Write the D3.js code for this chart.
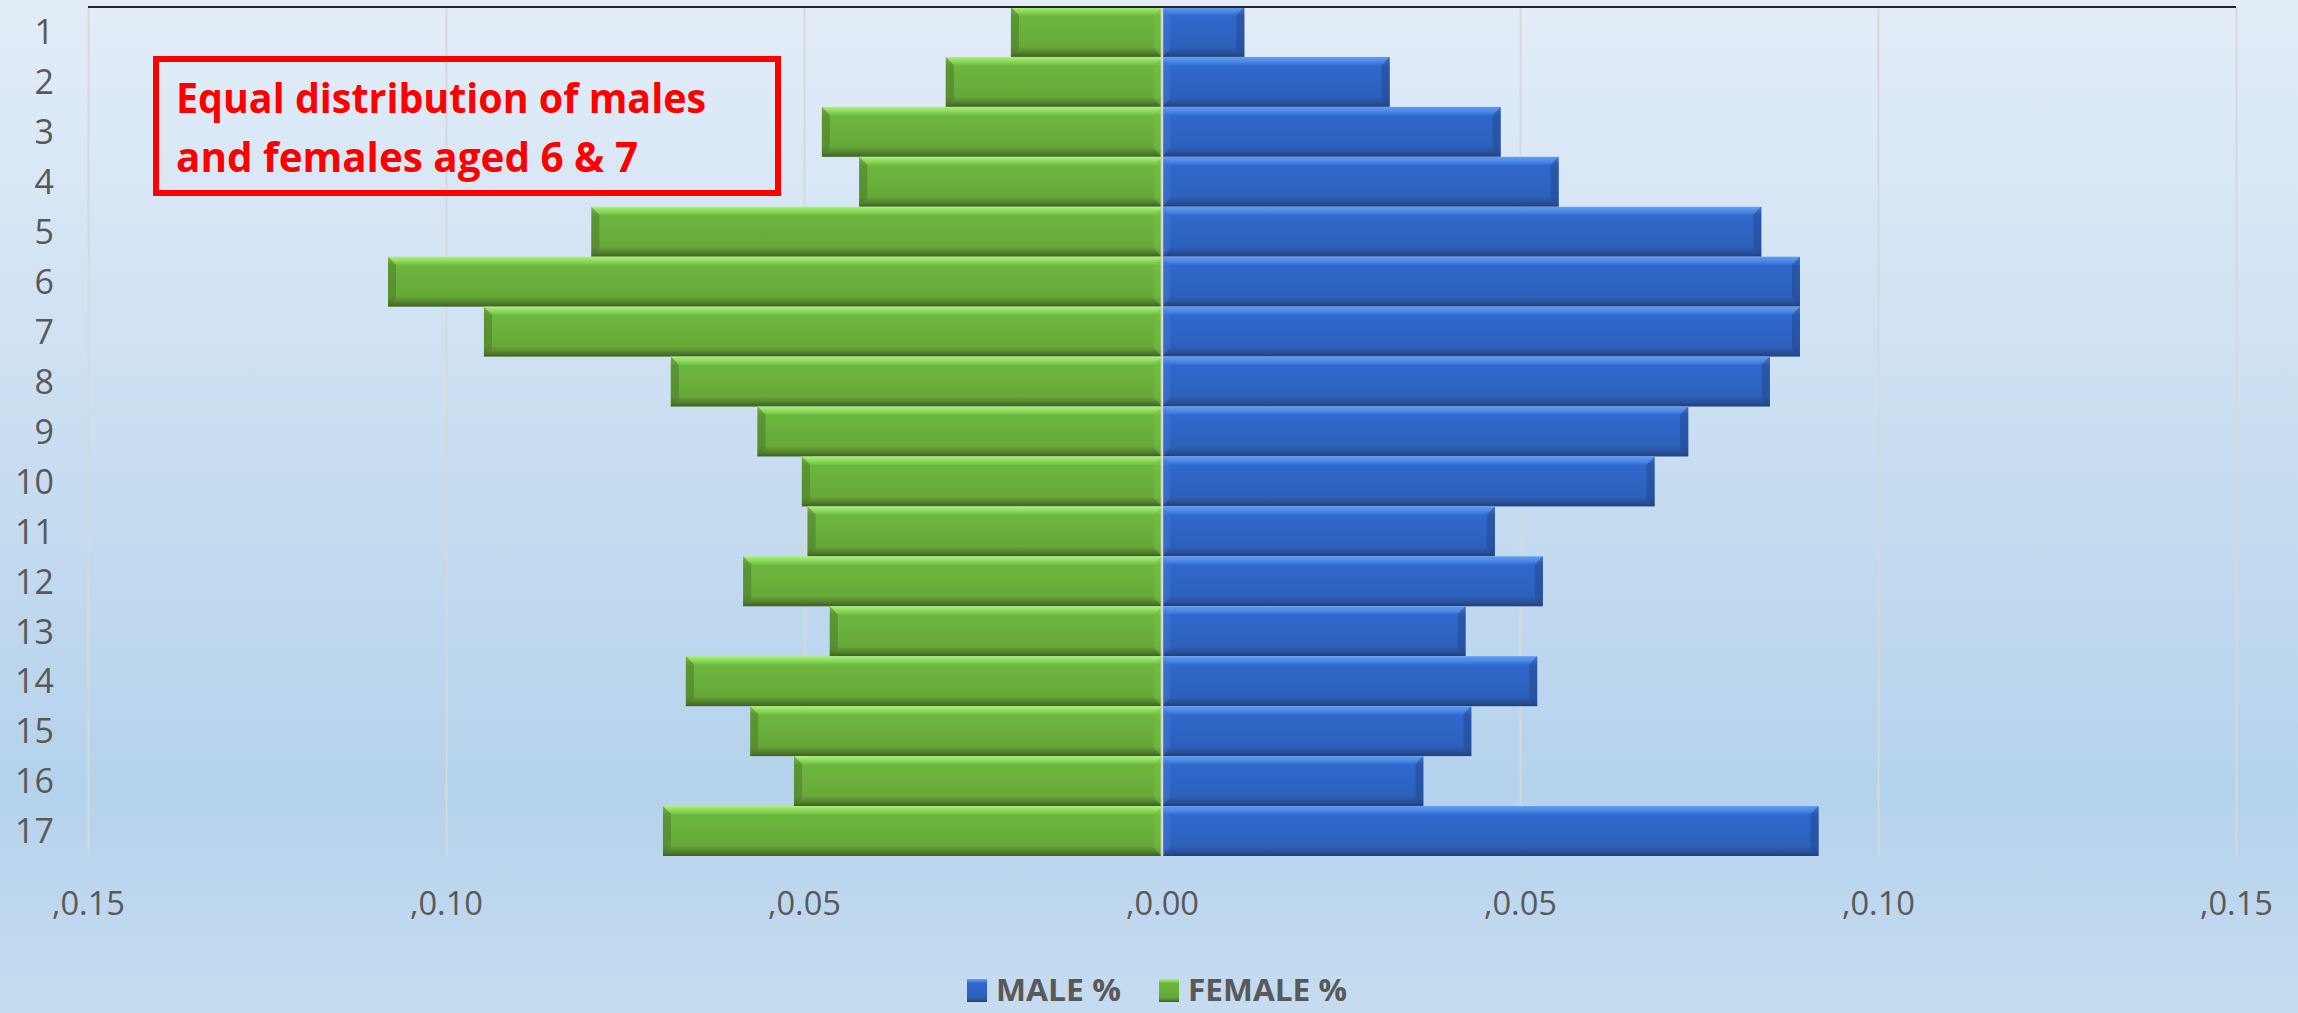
<!DOCTYPE html>
<html>
<head>
<meta charset="utf-8">
<script src="https://cdn.jsdelivr.net/npm/d3@7"></script>
<style>
  body { margin: 0; padding: 0; overflow: hidden; }
  svg { display: block; }
</style>
</head>
<body>
<div id="chart"></div>
<script>
// Data
const ages = ["1","2","3","4","5","6","7","8","9","10","11","12","13","14","15","16","17"];
const malePct = [0.0115, 0.0318, 0.0473, 0.0554, 0.0837, 0.0891, 0.0891, 0.0849, 0.0735, 0.0688,
                 0.0465, 0.0532, 0.0424, 0.0524, 0.0432, 0.0365, 0.0917];
const femalePct = [0.0211, 0.0302, 0.0475, 0.0423, 0.0797, 0.1081, 0.0947, 0.0686, 0.0565, 0.0503,
                   0.0495, 0.0585, 0.0464, 0.0665, 0.0575, 0.0514, 0.0697];
const tickValues = [-0.15, -0.10, -0.05, 0, 0.05, 0.10, 0.15];
const legendItems = [{label: "MALE %", key: "male"}, {label: "FEMALE %", key: "female"}];
const noteLines = ["Equal distribution of males", "and females aged 6 & 7"];

const W = 2298, H = 1013;
const font = "'Liberation Sans Narrow', 'Open Sans', sans-serif";

const svg = d3.select("#chart").append("svg")
    .attr("width", W)
    .attr("height", H);

const defs = svg.append("defs");

// background gradient
const bg = defs.append("linearGradient").attr("id", "bg")
    .attr("x1", 0).attr("y1", 0).attr("x2", 0).attr("y2", 1);
bg.append("stop").attr("offset", "0%").attr("stop-color", "#e3edf8");
bg.append("stop").attr("offset", "78%").attr("stop-color", "#b5d2ec");
bg.append("stop").attr("offset", "100%").attr("stop-color", "#c6dcf0");

// bevelled bar gradients
function barGradient(id, c) {
    const g = defs.append("linearGradient").attr("id", id)
        .attr("x1", 0).attr("y1", 0).attr("x2", 0).attr("y2", 1);
    g.append("stop").attr("offset", "0%").attr("stop-color", c[0]);
    g.append("stop").attr("offset", "10%").attr("stop-color", c[1]);
    g.append("stop").attr("offset", "18%").attr("stop-color", c[2]);
    g.append("stop").attr("offset", "80%").attr("stop-color", c[3]);
    g.append("stop").attr("offset", "90%").attr("stop-color", c[4]);
    g.append("stop").attr("offset", "100%").attr("stop-color", c[5]);
}
barGradient("male", ["#5f9cf2", "#4a86e6", "#3068cc", "#2d60bb", "#2a539f", "#223f7c"]);
barGradient("female", ["#a9f276", "#8ad55a", "#6db73e", "#67a838", "#56872f", "#3d6120"]);

svg.append("rect")
    .attr("width", W).attr("height", H)
    .attr("fill", "url(#bg)");

// Scales
const x = d3.scaleLinear().domain([-0.15, 0.15]).range([88, 2236]);
const y = d3.scaleBand().domain(ages).range([7, 856]).padding(0);

// Gridlines
svg.append("g")
    .attr("transform", `translate(0,7)`)
    .call(d3.axisBottom(x).tickValues(tickValues).tickSize(849).tickFormat(""))
    .call(g => g.select(".domain").remove())
    .call(g => g.selectAll(".tick line").attr("stroke", "#d6d9dc").attr("stroke-width", 2));

// Bars
const rows = ages.map((a, i) => ({age: a, male: malePct[i], female: femalePct[i]}));

function drawBars(key, sign) {
    const grp = svg.append("g");
    rows.forEach(d => {
        const x0 = x(0), x1 = x(sign * d[key]);
        const left = Math.min(x0, x1), w = Math.abs(x1 - x0);
        const top = y(d.age), h = y.bandwidth();
        grp.append("rect")
            .attr("x", left).attr("y", top)
            .attr("width", w).attr("height", h)
            .attr("fill", `url(#${key})`);
        // bevel at the outer end
        const b = 8;
        const outer = x1, inner = x1 - sign * b;
        grp.append("path")
            .attr("d", `M${outer},${top} L${inner},${top + b} L${inner},${top + h - b} L${outer},${top + h} Z`)
            .attr("fill", key === "male" ? "#24498f" : "#4c7a2b")
            .attr("opacity", 0.55);
        // bevel at the inner end
        const in0 = x0, in1 = x0 + sign * b;
        grp.append("path")
            .attr("d", `M${in0},${top} L${in1},${top + b} L${in1},${top + h - b} L${in0},${top + h} Z`)
            .attr("fill", key === "male" ? "#3c78dc" : "#78c048")
            .attr("opacity", 0.5);
    });
}
drawBars("female", -1);
drawBars("male", 1);

// zero line
svg.append("line")
    .attr("x1", x(0)).attr("x2", x(0))
    .attr("y1", 7).attr("y2", 856)
    .attr("stroke", "#d8d8d0").attr("stroke-width", 2.5);

// top axis line
svg.append("line")
    .attr("x1", x(-0.15)).attr("x2", x(0.15))
    .attr("y1", 7).attr("y2", 7)
    .attr("stroke", "#262626").attr("stroke-width", 2);

// Category labels
svg.append("g").selectAll("text")
    .data(ages)
    .join("text")
    .attr("x", 54)
    .attr("y", d => y(d) + y.bandwidth() / 2)
    .attr("dy", "0.36em")
    .attr("text-anchor", "end")
    .attr("font-family", font)
    .attr("font-size", 34)
    .attr("fill", "#595959")
    .text(d => d);

// Value axis labels
svg.append("g")
    .attr("transform", "translate(0,903)")
    .call(d3.axisBottom(x).tickValues(tickValues).tickSize(0)
        .tickFormat(d => "," + d3.format(".2f")(Math.abs(d))))
    .call(g => g.select(".domain").remove())
    .call(g => g.selectAll("text")
        .attr("y", 0).attr("dy", "0.36em")
        .attr("font-family", font)
        .attr("font-size", 32)
        .attr("fill", "#595959")
        .attr("textLength", 73)
        .attr("lengthAdjust", "spacingAndGlyphs"));

// Annotation box
svg.append("rect")
    .attr("x", 156).attr("y", 59)
    .attr("width", 622).attr("height", 134)
    .attr("fill", "none")
    .attr("stroke", "#ff0000")
    .attr("stroke-width", 6);

const lineLens = [530, 462];
noteLines.forEach((t, i) => {
    svg.append("text")
        .attr("x", 176)
        .attr("y", 113 + i * 59)
        .attr("font-family", font)
        .attr("font-weight", "bold")
        .attr("font-size", 42)
        .attr("fill", "#ff0000")
        .attr("textLength", lineLens[i])
        .attr("lengthAdjust", "spacingAndGlyphs")
        .text(t);
});

// Legend
const legendX = [967, 1159];
const legendW = [125, 159];
legendItems.forEach((d, i) => {
    const g = svg.append("g").attr("transform", `translate(${legendX[i]},979)`);
    g.append("rect")
        .attr("width", 20).attr("height", 23)
        .attr("fill", `url(#${d.key})`);
    g.append("text")
        .attr("x", 29).attr("y", 22)
        .attr("font-family", font)
        .attr("font-weight", "bold")
        .attr("font-size", 31)
        .attr("fill", "#595959")
        .attr("textLength", legendW[i])
        .attr("lengthAdjust", "spacingAndGlyphs")
        .text(d.label);
});
</script>
</body>
</html>
